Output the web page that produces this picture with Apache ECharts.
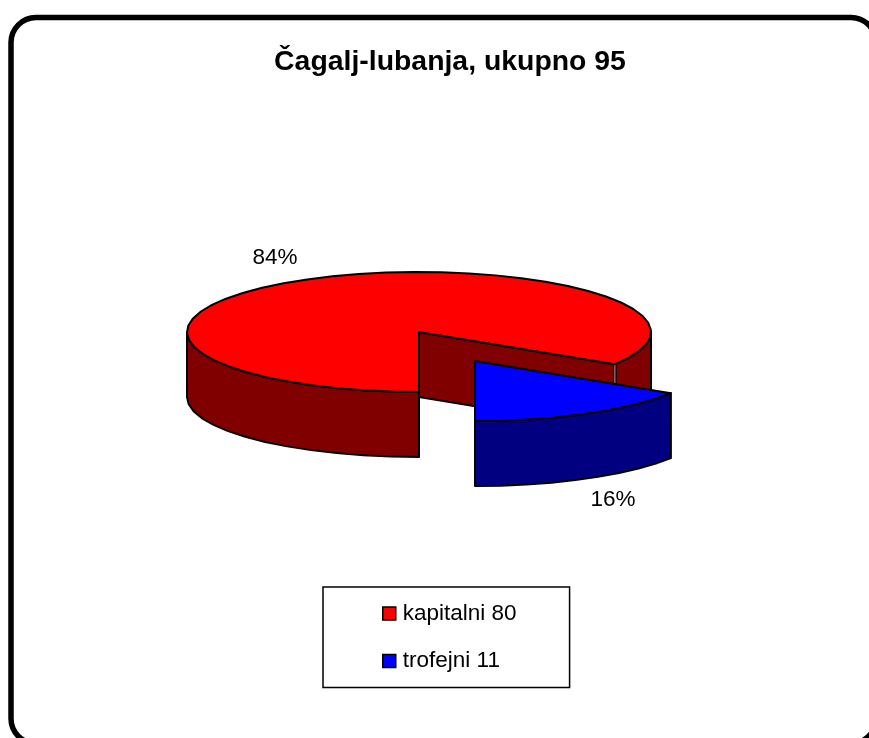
<!DOCTYPE html>
<html>
<head>
<meta charset="utf-8">
<style>html,body{margin:0;padding:0;background:#fff}#c{width:869px;height:738px}</style>
<script src="https://cdn.jsdelivr.net/npm/echarts@6/dist/echarts.min.js"></script>
</head>
<body>
<div id="c"></div>
<script>
const chartTitle = 'Čagalj-lubanja, ukupno 95';
const sliceNames = ['kapitalni 80', 'trofejni 11'];
const sliceValues = [84, 16];

const topColors = ['#FF0000', '#0000FF'];
const wallColors = ['#800000', '#000080'];
const FONT = '"Liberation Sans", Arial, sans-serif';
const CX = 419, CY = 332, RX = 232, RY = 60, DEPTH = 65;
const explodeOffsets = [[0, 0], [56, 29]];
const labelAnchors = [[275, 258], [613, 500]];
const total = sliceValues.reduce((a, b) => a + b, 0);

function sliceRange(idx) {
  const blueSweep = sliceValues[1] / total * 360;
  return idx === 1 ? [0, blueSweep] : [blueSweep, 360];
}
function pt(theta, ox, oy, dz) {
  const a = theta * Math.PI / 180;
  return [CX + ox + RX * Math.sin(a), CY + oy + RY * Math.cos(a) + (dz || 0)];
}
function arc(from, to, ox, oy, dz) {
  const out = [], n = Math.max(1, Math.ceil(Math.abs(to - from) / 7));
  for (let i = 0; i <= n; i++) out.push(pt(from + (to - from) * i / n, ox, oy, dz));
  return out;
}
const edge = { stroke: '#000', lineWidth: 2, lineJoin: 'round' };
function poly(points, fill) {
  return { type: 'polygon', shape: { points }, style: Object.assign({ fill }, edge) };
}
function outerWall(from, to, ox, oy, fill) {
  return poly(arc(from, to, ox, oy, 0).concat(arc(to, from, ox, oy, DEPTH)), fill);
}
function seam(p, width, color) {
  return { type: 'line', shape: { x1: p[0], y1: p[1], x2: p[0], y2: p[1] + DEPTH }, style: { stroke: color, lineWidth: width } };
}
function renderSlice(idx) {
  return function () {
    const [s, e] = sliceRange(idx);
    const [ox, oy] = explodeOffsets[idx];
    const c = [CX + ox, CY + oy];
    const children = [];
    const endPt = pt(s, ox, oy, 0);
    if (idx === 0) {
      children.push(poly([c, endPt, [endPt[0], endPt[1] + DEPTH], [c[0], c[1] + DEPTH]], wallColors[idx]));
      children.push(outerWall(s, 90, ox, oy, wallColors[idx]));
      children.push(outerWall(270, e, ox, oy, wallColors[idx]));
      children.push(seam(endPt, 3.5, '#000'));
      children.push(seam(endPt, 1, '#aaa'));
      children.push(poly([c].concat(arc(s, e, ox, oy, 0)), topColors[idx]));
    } else {
      children.push(outerWall(s, e, ox, oy, wallColors[idx]));
      children.push(poly([c].concat(arc(s, e, ox, oy, 0)), topColors[idx]));
    }
    children.push({
      type: 'text',
      style: {
        text: Math.round(sliceValues[idx] / total * 100) + '%',
        x: labelAnchors[idx][0], y: labelAnchors[idx][1],
        align: 'center', verticalAlign: 'middle',
        font: '22.5px ' + FONT, fill: '#000'
      }
    });
    return { type: 'group', children };
  };
}

const chart = echarts.init(document.getElementById('c'), null, { renderer: 'canvas' });
chart.setOption({
  animation: false,
  backgroundColor: '#fff',
  title: {
    text: chartTitle, left: 445, top: 43, textAlign: 'center',
    textStyle: { fontFamily: FONT, fontSize: 28.4, fontWeight: 'bold', color: '#000' }
  },
  legend: {
    orient: 'vertical', left: 323, top: 587,
    data: sliceNames,
    icon: 'rect', itemWidth: 13, itemHeight: 13, itemGap: 24.5,
    padding: [15, 53, 15, 59],
    backgroundColor: '#fff', borderColor: '#000', borderWidth: 1.5, borderRadius: 0,
    selectedMode: false,
    inactiveColor: '#000',
    textStyle: { fontFamily: FONT, fontSize: 22.5, color: '#000', padding: [0, 0, 0, 2] },
    itemStyle: { borderColor: '#000', borderWidth: 1.5 }
  },
  graphic: [{
    type: 'rect', z: -1, silent: true,
    shape: { x: 11, y: 17.5, width: 865, height: 726, r: 25 },
    style: { fill: 'none', stroke: '#000', lineWidth: 5.5 }
  }],
  series: sliceNames.map((name, i) => ({
    type: 'custom', name, coordinateSystem: 'none', silent: true,
    itemStyle: { color: topColors[i] },
    z: 2 + i,
    data: [[sliceValues[i]]],
    renderItem: renderSlice(i)
  }))
});
</script>
</body>
</html>
